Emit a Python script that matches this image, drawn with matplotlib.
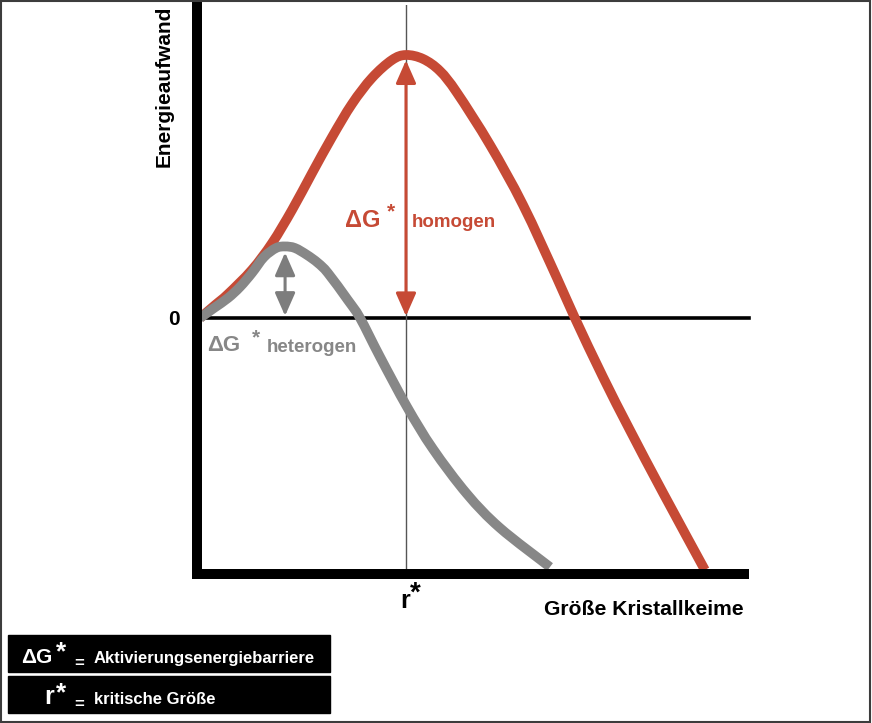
import matplotlib
matplotlib.use('Agg')
import matplotlib.pyplot as plt
from matplotlib.patches import Rectangle, PathPatch
from matplotlib.path import Path

# curve values (x = Größe, y = Energieaufwand, r* = 10)
red_x = [0, 0.73, 1.36, 2.52, 3.50, 4.47, 5.44, 6.41, 7.38, 8.35, 9.32, 10.0, 10.83,
         11.65, 12.48, 14.08, 15.68, 17.33, 18.20, 19.56, 20.87, 22.48, 24.51]
red_y = [0, 0.49, 0.91, 1.83, 2.85, 4.11, 5.51, 6.88, 8.14, 9.13, 9.81, 10.0, 9.85,
         9.39, 8.56, 6.58, 4.30, 1.52, 0, -2.24, -4.26, -6.65, -9.58]

gray_x = [0, 0.68, 1.36, 1.94, 2.52, 3.11, 3.69, 4.13, 4.61, 5.19, 5.73, 6.21, 7.18,
          7.77, 8.74, 10.05, 11.31, 12.96, 14.56, 16.99]
gray_y = [0, 0.38, 0.76, 1.18, 1.71, 2.32, 2.66, 2.72, 2.66, 2.40, 2.09, 1.71, 0.68,
          0, -1.48, -3.38, -4.98, -6.69, -7.98, -9.47]

r_star = 10.0

xlabel = 'Größe Kristallkeime'
ylabel = 'Energieaufwand'
homo_label = 'homogen'
hetero_label = 'heterogen'
legend_rows = [('ΔG', 'Aktivierungsenergiebarriere'), ('r', 'kritische Größe')]

RED = '#C64A35'
GRAY = '#878787'
W, H = 872, 723

plt.rcParams['font.family'] = ['Liberation Sans', 'DejaVu Sans']


def fx(px):
    return px / W


def fy(py):
    return 1 - py / H


def star(px, top, size, color):
    # asterisk placed by the top of its glyph
    base = top + 0.716 * size * 100 / 72
    fig.text(fx(px), fy(base), '*', fontsize=size, fontweight='bold', color=color,
             ha='left', va='baseline')


def smooth_path(xs, ys):
    # smooth line through the read points (Catmull-Rom drawn as Bezier segments)
    pts = list(zip(xs, ys))
    n = len(pts)
    verts = [pts[0]]
    codes = [Path.MOVETO]
    for i in range(n - 1):
        p0 = pts[i - 1] if i > 0 else pts[i]
        p1, p2 = pts[i], pts[i + 1]
        p3 = pts[i + 2] if i + 2 < n else pts[i + 1]
        c1 = (p1[0] + (p2[0] - p0[0]) / 6, p1[1] + (p2[1] - p0[1]) / 6)
        c2 = (p2[0] - (p3[0] - p1[0]) / 6, p2[1] - (p3[1] - p1[1]) / 6)
        verts += [c1, c2, p2]
        codes += [Path.CURVE4] * 3
    return Path(verts, codes)


fig = plt.figure(figsize=(W / 100, H / 100), dpi=100)
ax = fig.add_axes([fx(197), fy(574), (744 - 197) / W, (574 - 5) / H])
ax.set_xlim(-0.146, 26.41)
ax.set_ylim(-9.734, 11.901)

for s in ['top', 'right']:
    ax.spines[s].set_visible(False)
for s in ['left', 'bottom']:
    ax.spines[s].set_linewidth(7.2)
    ax.spines[s].set_zorder(6)
ax.spines['bottom'].set_capstyle('projecting')
ax.set_xticks([])
ax.set_yticks([])

ax.axhline(0, xmin=0, xmax=1.009, color='black', lw=2.6, zorder=1, clip_on=False)
ax.axvline(r_star, color='#555555', lw=1.0, zorder=1)

ax.add_patch(PathPatch(smooth_path(red_x, red_y), facecolor='none', edgecolor=RED,
                       lw=7, capstyle='butt', joinstyle='round', zorder=3))
ax.add_patch(PathPatch(smooth_path(gray_x, gray_y), facecolor='none', edgecolor=GRAY,
                       lw=7, capstyle='butt', joinstyle='round', zorder=4))

# barrier arrows
i_red = red_y.index(max(red_y))
i_gray = gray_y.index(max(gray_y))
ax.annotate('', xy=(red_x[i_red], 0.07), xytext=(red_x[i_red], red_y[i_red] - 0.2),
            arrowprops=dict(arrowstyle='<|-|>,head_length=0.5,head_width=0.22',
                            mutation_scale=28, lw=2.2, color=RED, shrinkA=0, shrinkB=0),
            zorder=5)
ax.annotate('', xy=(gray_x[i_gray], 0.08), xytext=(gray_x[i_gray], gray_y[i_gray] - 0.23),
            arrowprops=dict(arrowstyle='<|-|>,head_length=0.5,head_width=0.22',
                            mutation_scale=28, lw=2.2, color='#7d7d7d', shrinkA=0, shrinkB=0),
            zorder=5)

# labels
fig.text(fx(345), fy(227), 'ΔG', fontsize=17, fontweight='bold', color=RED, va='baseline')
star(387, 202, 15, RED)
fig.text(fx(412), fy(227), homo_label, fontsize=13.5, fontweight='bold', color=RED, va='baseline')

fig.text(fx(207), fy(351), 'ΔG', fontsize=16, fontweight='bold', color=GRAY, va='baseline')
star(252, 328, 15, GRAY)
fig.text(fx(267), fy(352), hetero_label, fontsize=13.5, fontweight='bold', color=GRAY, va='baseline')

fig.text(fx(174), fy(325), '0', fontsize=15, fontweight='bold', ha='center', va='baseline')
fig.text(fx(164), fy(86), ylabel, fontsize=15, fontweight='bold', rotation=90,
         ha='center', va='center')
fig.text(fx(400), fy(608), 'r', fontsize=18, fontweight='bold', va='baseline')
star(410, 581, 20, 'black')
fig.text(fx(544), fy(615), xlabel, fontsize=15.2, fontweight='bold', va='baseline')

# legend boxes
for k, (sym, desc) in enumerate(legend_rows):
    top = 635 + 41 * k
    fig.patches.append(Rectangle((fx(8), fy(top + 37)), (330 - 8) / W, 37 / H,
                                 transform=fig.transFigure, facecolor='black',
                                 edgecolor='black', zorder=1))
    base = top + 28
    if sym == 'ΔG':
        fig.text(fx(21), fy(base), sym, fontsize=15, fontweight='bold', color='white',
                 va='baseline', zorder=2)
    else:
        fig.text(fx(44), fy(base), sym, fontsize=18, fontweight='bold', color='white',
                 va='baseline', zorder=2)
    star(56, top + 5, 19, 'white')
    fig.text(fx(74), fy(base + 5), '=', fontsize=12, fontweight='bold', color='white',
             va='baseline', zorder=2)
    fig.text(fx(94), fy(base), desc, fontsize=12, fontweight='bold', color='white',
             va='baseline', zorder=2)

# thin frame around the picture
fig.patches.append(Rectangle((0.001, 0.002), 0.997, 0.996, transform=fig.transFigure,
                             fill=False, edgecolor='#3c3c3c', lw=1.5))

fig.savefig('out.png', dpi=100)
